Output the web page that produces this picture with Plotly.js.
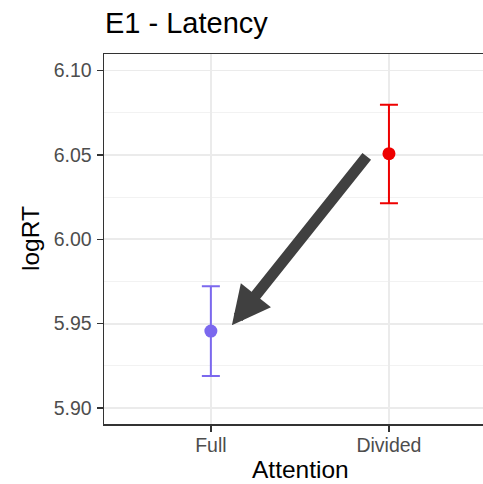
<!DOCTYPE html>
<html>
<head>
<meta charset="utf-8">
<script src="https://cdn.plot.ly/plotly-3.0.1.min.js"></script>
<style>html,body{margin:0;padding:0;background:#fff;}#chart{width:483px;height:484px;}</style>
</head>
<body>
<div id="chart"></div>
<script>
// Data
const categories = ["Full", "Divided"];
const catPos = [1, 2];
const meanLogRT = [5.9456, 6.0507];
const upperCI = [5.9722, 6.0797];
const lowerCI = [5.9189, 6.0213];
const colors = ["#7B68EE", "#EE0000"];
const yTicks = [5.90, 5.95, 6.00, 6.05, 6.10];
// arrow from Divided toward Full (tail, tip) in data units
const arrowTail = [1.882, 6.0500];
const arrowTip = [1.118, 5.9490];

const FONT = "Liberation Sans, Arial, Helvetica, sans-serif";

const traces = categories.map((c, i) => ({
  type: "scatter",
  mode: "markers",
  x: [catPos[i]],
  y: [meanLogRT[i]],
  marker: {color: colors[i], size: 13},
  error_y: {
    type: "data", symmetric: false,
    array: [upperCI[i] - meanLogRT[i]],
    arrayminus: [meanLogRT[i] - lowerCI[i]],
    color: colors[i], thickness: 2, width: 9
  },
  showlegend: false,
  hoverinfo: "skip"
}));

const layout = {
  width: 483, height: 484,
  margin: {l: 104, r: 0, t: 54, b: 60},
  paper_bgcolor: "#ffffff",
  plot_bgcolor: "#ffffff",
  font: {family: FONT, color: "#000"},
  title: {
    text: "E1 - Latency",
    font: {family: FONT, size: 29, color: "#000"},
    xref: "container", yref: "container",
    x: 105 / 483, xanchor: "left",
    y: 1 - 23 / 484, yanchor: "middle"
  },
  xaxis: {
    range: [0.4, 1 + (483 - 211) / 178],
    tickvals: catPos, ticktext: categories,
    showgrid: true, gridcolor: "#EBEBEB", gridwidth: 1.8,
    zeroline: false,
    showline: true, linecolor: "#333333", linewidth: 1.5, mirror: true,
    ticks: "outside", ticklen: 6, tickwidth: 1.5, tickcolor: "#333333",
    ticklabelstandoff: -3,
    tickfont: {family: FONT, size: 19.5, color: "#4D4D4D"},
    automargin: false,
    fixedrange: true
  },
  yaxis: {
    range: [5.8905, 6.1098],
    tickvals: yTicks, ticktext: yTicks.map(v => v.toFixed(2)),
    showgrid: true, gridcolor: "#EBEBEB", gridwidth: 1.8,
    minor: {tickvals: [5.925, 5.975, 6.025, 6.075], showgrid: true, gridcolor: "#F2F2F2", gridwidth: 1, ticks: ""},
    zeroline: false,
    showline: true, linecolor: "#333333", linewidth: 1.5,
    ticks: "outside", ticklen: 6, tickwidth: 1.5, tickcolor: "#333333",
    ticklabelstandoff: 1,
    tickfont: {family: FONT, size: 19.5, color: "#4D4D4D"},
    automargin: false,
    fixedrange: true
  },
  annotations: [
    {
      x: arrowTip[0], y: arrowTip[1], xref: "x", yref: "y",
      ax: arrowTail[0], ay: arrowTail[1], axref: "x", ayref: "y",
      text: "", showarrow: true,
      arrowhead: 2, arrowsize: 0.7, arrowwidth: 11, arrowcolor: "#404040",
      standoff: 0, startstandoff: 0
    },
    {
      text: "Attention", showarrow: false,
      xref: "paper", yref: "paper", x: (300 - 104) / 379, y: -(469 - 424) / 370,
      xanchor: "center", yanchor: "middle",
      font: {family: FONT, size: 24.5, color: "#000"}
    },
    {
      text: "logRT", showarrow: false, textangle: -90,
      xref: "paper", yref: "paper", x: -(104 - 30) / 379, y: 0.5,
      xanchor: "center", yanchor: "middle",
      font: {family: FONT, size: 24.5, color: "#000"}
    }
  ]
};

Plotly.newPlot("chart", traces, layout, {displayModeBar: false, staticPlot: true});
</script>
</body>
</html>
